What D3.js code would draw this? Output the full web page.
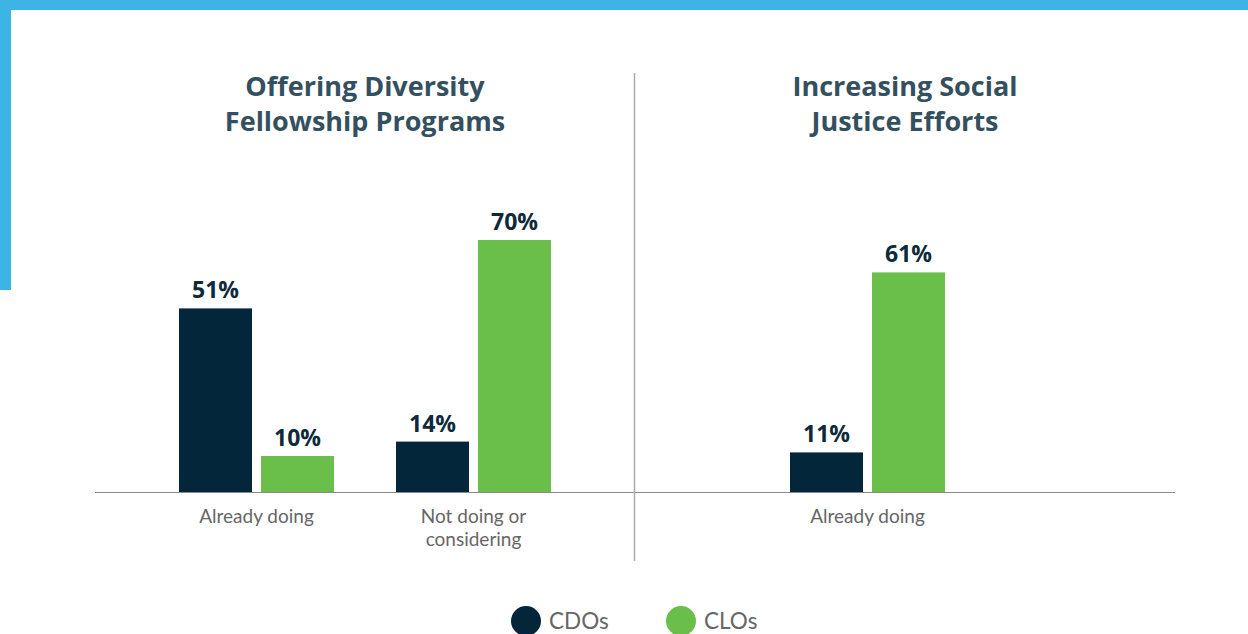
<!DOCTYPE html>
<html><head><meta charset="utf-8">
<script src="https://cdn.jsdelivr.net/npm/d3@7"></script>
<style>
html,body{margin:0;padding:0;background:#fff;}
svg{display:block;}
text{font-family:"Open Sans",Lato,sans-serif;}
text.cat, text.leg{font-family:Lato,"Open Sans",sans-serif;}
</style></head>
<body>
<svg id="c" width="1248" height="634"></svg>
<script>
const series = ["CDOs", "CLOs"];
const colors = ["#03263a", "#6abf4b"];
const leftTitle = ["Offering Diversity", "Fellowship Programs"];
const rightTitle = ["Increasing Social", "Justice Efforts"];
const leftCategories = ["Already doing", "Not doing or considering"];
const leftCatLines = [["Already doing"], ["Not doing or", "considering"]];
const leftCDOs = [51, 14];
const leftCLOs = [10, 70];
const rightCategories = ["Already doing"];
const rightCatLines = [["Already doing"]];
const rightCDOs = [11];
const rightCLOs = [61];

const svg = d3.select("#c");
const W = 1248, H = 634;

// frame accent
svg.append("rect").attr("x",0).attr("y",0).attr("width",W).attr("height",10).attr("fill","#3db4e5");
svg.append("rect").attr("x",0).attr("y",0).attr("width",11).attr("height",290).attr("fill","#3db4e5");

const baseY = 492;
const y = d3.scaleLinear().domain([0, 100]).range([baseY, 132]);

// baseline & divider
svg.append("line").attr("x1",95).attr("x2",1175).attr("y1",baseY+0.5).attr("y2",baseY+0.5)
  .attr("stroke","#8a8a8a").attr("stroke-width",1.2);
svg.append("line").attr("x1",634.5).attr("x2",634.5).attr("y1",73).attr("y2",561)
  .attr("stroke","#aaaaaa").attr("stroke-width",1.5);

function panel(cats, lines, cdo, clo, rangeX, title, titleX){
  const x0 = d3.scaleBand().domain(cats).range(rangeX).paddingInner(0).paddingOuter(0);
  const bw = x0.bandwidth();
  const x1 = d3.scaleBand().domain(series).range([bw/2-77.5, bw/2+77.5]).paddingInner(9/82).paddingOuter(0);
  const data = cats.map((c,i)=>({cat:c, lines:lines[i], vals:[cdo[i], clo[i]]}));
  const g = svg.append("g");
  const grp = g.selectAll("g.grp").data(data).join("g").attr("class","grp")
    .attr("transform", d=>`translate(${x0(d.cat)},0)`);
  grp.selectAll("rect").data(d=>d.vals.map((v,j)=>({s:series[j], v, j}))).join("rect")
    .attr("x", d=>x1(d.s)).attr("width", x1.bandwidth())
    .attr("y", d=>y(d.v)).attr("height", d=>baseY - y(d.v))
    .attr("fill", d=>colors[d.j]);
  grp.selectAll("text.val").data(d=>d.vals.map((v,j)=>({s:series[j], v, j}))).join("text")
    .attr("class","val")
    .attr("x", d=>x1(d.s)+x1.bandwidth()/2).attr("y", d=>y(d.v)-10)
    .attr("text-anchor","middle").attr("font-size",23).attr("font-weight",700)
    .attr("fill","#0d2a3a").text(d=>d.v+"%");
  grp.each(function(d){
    d3.select(this).selectAll("text.cat").data(d.lines).join("text").attr("class","cat")
      .attr("x", bw/2).attr("y",(l,k)=>523+k*23)
      .attr("text-anchor","middle").attr("font-size",19).attr("fill","#666")
      .text(l=>l);
  });
  svg.append("g").selectAll("text").data(title).join("text")
    .attr("x", titleX).attr("y",(t,k)=>96+k*35)
    .attr("text-anchor","middle").attr("font-size",27).attr("font-weight",700)
    .attr("fill","#34505f").text(t=>t);
}

panel(leftCategories, leftCatLines, leftCDOs, leftCLOs, [148, 582], leftTitle, 365);
panel(rightCategories, rightCatLines, rightCDOs, rightCLOs, [759, 976], rightTitle, 905);

// legend
const legX = d3.scalePoint().domain(series).range([526, 681]);
const lg = svg.append("g").selectAll("g").data(series).join("g")
  .attr("transform", d=>`translate(${legX(d)},621)`);
lg.append("circle").attr("r",15).attr("fill",(d,i)=>colors[i]);
lg.append("text").attr("class","leg").attr("x",23).attr("y",8).attr("font-size",22.5).attr("fill","#666").text(d=>d);
</script>
</body></html>
